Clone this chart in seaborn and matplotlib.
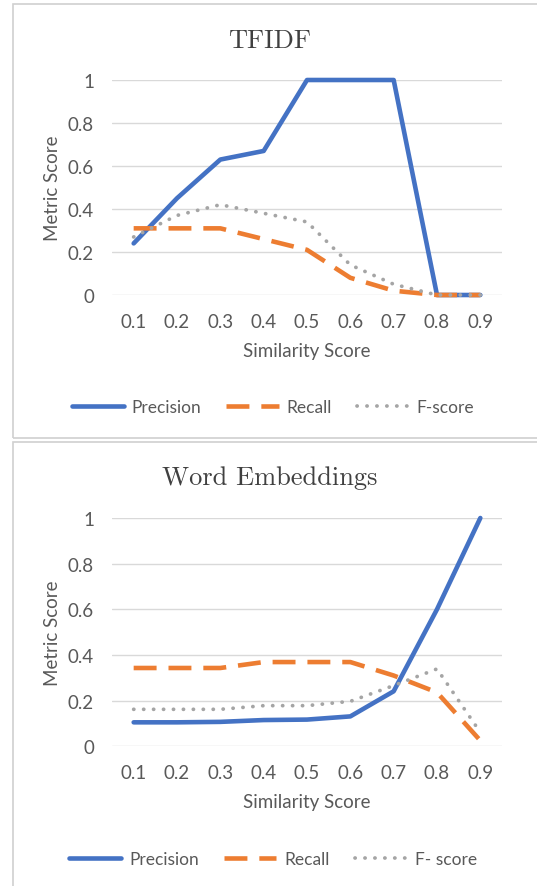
import matplotlib
matplotlib.use("Agg")
import matplotlib.pyplot as plt
import matplotlib.patches as mpatches
import seaborn as sns

# data
thresholds = ["0.1", "0.2", "0.3", "0.4", "0.5", "0.6", "0.7", "0.8", "0.9"]
tfidf_precision = [0.24, 0.45, 0.63, 0.67, 1.0, 1.0, 1.0, 0.0, 0.0]
tfidf_recall = [0.31, 0.31, 0.31, 0.26, 0.21, 0.08, 0.02, 0.0, 0.0]
tfidf_fscore = [0.27, 0.37, 0.42, 0.38, 0.34, 0.14, 0.05, 0.0, 0.0]
we_precision = [0.105, 0.105, 0.107, 0.115, 0.117, 0.131, 0.241, 0.60, 1.0]
we_recall = [0.343, 0.343, 0.343, 0.369, 0.369, 0.369, 0.31, 0.236, 0.025]
we_fscore = [0.162, 0.162, 0.162, 0.178, 0.178, 0.197, 0.266, 0.339, 0.061]

sns.set_theme(style="white")
plt.rcParams["font.family"] = ["Lato", "DejaVu Sans"]

W, H = 537, 887
fig = plt.figure(figsize=(W / 100, H / 100), dpi=100)
txt = "#595959"
grid = "#d9d9d9"
blue, orange, grey = "#4472C4", "#ED7D31", "#A5A5A5"


def px(x, y):
    return x / W, 1 - y / H


# panel frames
for top, bot in [(5, 439), (443, 900)]:
    fig.patches.append(mpatches.Rectangle(px(13, bot), 1, (bot - top) / H,
                                          transform=fig.transFigure, fill=False,
                                          edgecolor="#d0d0d0", lw=1.2))

panels = [
    ("TFIDF", tfidf_precision, tfidf_recall, tfidf_fscore, 81, 296, 41, 352, 408, "F-score"),
    ("Word Embeddings", we_precision, we_recall, we_fscore, 519, 747.3, 478, 803, 860, "F- score"),
]

xpos = list(range(len(thresholds)))
for title, prec, rec, fsc, ytop, ybot, ytitle, yxlab, yleg, flab in panels:
    l, b = px(112, ybot)
    ax = fig.add_axes([l, b, 390 / W, (ybot - ytop) / H])
    sns.lineplot(x=xpos, y=prec, ax=ax, color=blue, lw=3.3, label="Precision",
                 solid_capstyle="round")
    sns.lineplot(x=xpos, y=rec, ax=ax, color=orange, lw=3.3, label="Recall",
                 linestyle=(0, (5.0, 2.6)))
    sns.lineplot(x=xpos, y=fsc, ax=ax, color=grey, lw=2.7, label=flab,
                 linestyle=(0, (0.05, 2.6)), dash_capstyle="round")
    ax.set_xlim(-0.5, 8.5)
    ax.set_ylim(0, 1)
    ax.set_yticks([0, 0.2, 0.4, 0.6, 0.8, 1.0])
    ax.set_yticklabels(["0", "0.2", "0.4", "0.6", "0.8", "1"])
    ax.set_xticks(xpos)
    ax.set_xticklabels(thresholds)
    ax.tick_params(axis="both", colors=txt, labelsize=13.5, length=0)
    ax.tick_params(axis="x", pad=13)
    ax.tick_params(axis="y", pad=13)
    ax.grid(axis="y", color=grid, lw=1)
    ax.set_axisbelow(True)
    for s in ax.spines.values():
        s.set_visible(False)
    for ln in ax.lines:
        ln.set_clip_on(False)
    handles, labels = ax.get_legend_handles_labels()
    ax.get_legend().remove()
    fig.text(*px(270, ytitle), title, family="cmr10", fontsize=19, color="#404040",
             ha="center", va="center")
    fig.text(*px(307, yxlab), "Similarity Score", fontsize=13.5, color=txt,
             ha="center", va="center")
    fig.text(*px(53, (ytop + ybot) / 2), "Metric Score", fontsize=13.5, color=txt,
             ha="center", va="center", rotation=90)
    fig.legend(handles, labels, loc="center", bbox_to_anchor=px(273, yleg),
               ncol=3, frameon=False, fontsize=12.5, labelcolor=txt,
               handlelength=3.0, columnspacing=1.45, handletextpad=0.45)

fig.savefig("out.png", dpi=100)
